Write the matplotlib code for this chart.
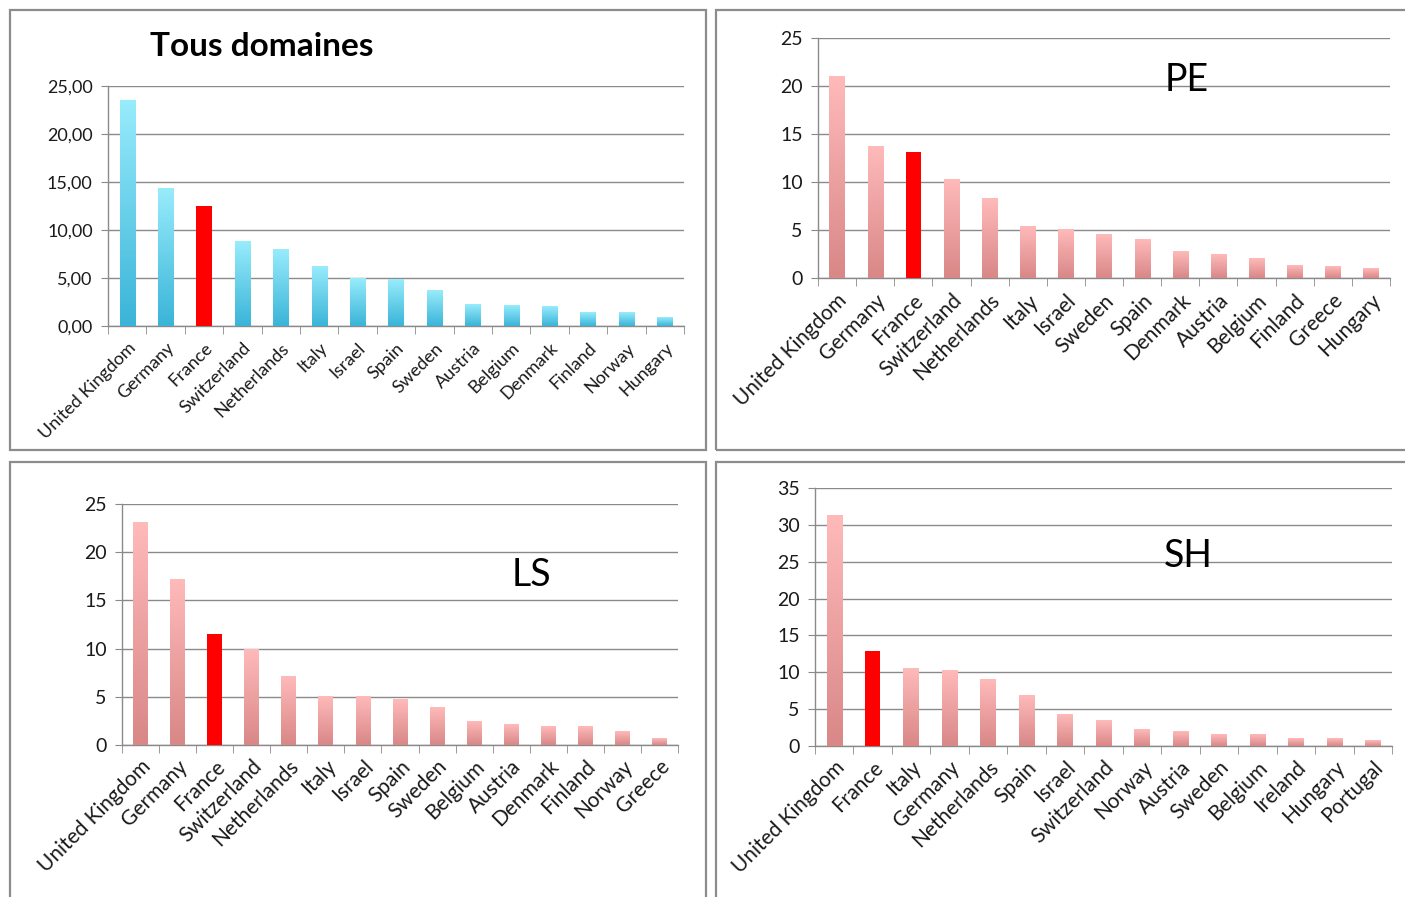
import matplotlib
matplotlib.use('Agg')

import matplotlib.pyplot as plt
from matplotlib.patches import Rectangle
from matplotlib.ticker import FuncFormatter, MultipleLocator
import numpy as np

plt.rcParams['font.family'] = ['Lato', 'DejaVu Sans']

# share per country, one list per domain
all_countries = ['United Kingdom', 'Germany', 'France', 'Switzerland', 'Netherlands', 'Italy',
                 'Israel', 'Spain', 'Sweden', 'Austria', 'Belgium', 'Denmark', 'Finland',
                 'Norway', 'Hungary']
all_values = [23.48, 14.28, 12.48, 8.85, 8.02, 6.22, 4.98, 4.81, 3.70, 2.25, 2.18, 2.00,
              1.45, 1.45, 0.90]

pe_countries = ['United Kingdom', 'Germany', 'France', 'Switzerland', 'Netherlands', 'Italy',
                'Israel', 'Sweden', 'Spain', 'Denmark', 'Austria', 'Belgium', 'Finland',
                'Greece', 'Hungary']
pe_values = [20.94, 13.65, 13.13, 10.24, 8.23, 5.35, 5.10, 4.48, 3.96, 2.71, 2.47, 2.08,
             1.35, 1.22, 0.94]

ls_countries = ['United Kingdom', 'Germany', 'France', 'Switzerland', 'Netherlands', 'Italy',
                'Israel', 'Spain', 'Sweden', 'Belgium', 'Austria', 'Denmark', 'Finland',
                'Norway', 'Greece']
ls_values = [23.06, 17.15, 11.55, 9.89, 7.12, 5.05, 5.03, 4.74, 3.87, 2.45, 2.11, 1.90,
             1.90, 1.45, 0.69]

sh_countries = ['United Kingdom', 'France', 'Italy', 'Germany', 'Netherlands', 'Spain',
                'Israel', 'Switzerland', 'Norway', 'Austria', 'Sweden', 'Belgium', 'Ireland',
                'Hungary', 'Portugal']
sh_values = [31.28, 12.85, 10.58, 10.30, 9.08, 6.81, 4.27, 3.50, 2.27, 2.00, 1.59, 1.59,
             0.95, 0.95, 0.68]

BLUE = ('#3ab4d8', '#98ecfc')
PINK = ('#d98787', '#ffbaba')
HIGHLIGHT = 'France'

W, H = 1405, 897
fig = plt.figure(figsize=(W / 100, H / 100), dpi=100)


def px_axes(left, right, top, bottom):
    # pixel box -> figure fraction axes
    return fig.add_axes([left / W, 1 - bottom / H, (right - left) / W, (bottom - top) / H])


def frame(x0, y0, x1, y1):
    fig.patches.append(Rectangle((x0 / W, 1 - y1 / H), (x1 - x0) / W, (y1 - y0) / H,
                                 transform=fig.transFigure, fill=False,
                                 edgecolor='#8c8c8c', linewidth=1.6))


def bar_panel(ax, countries, values, ymax, colors, fmt, tick_fs, label_fs, pad):
    x = np.arange(len(countries))
    width = 0.40
    grad = np.linspace(0, 1, 256).reshape(-1, 1)
    cmap = matplotlib.colors.LinearSegmentedColormap.from_list('g', list(colors))
    for xi, name, v in zip(x, countries, values):
        if name == HIGHLIGHT:
            ax.bar(xi, v, width=width, color='#ff0000', zorder=3)
        else:
            ax.imshow(grad, extent=(xi - width / 2, xi + width / 2, 0, v), origin='lower',
                      cmap=cmap, aspect='auto', zorder=3)
    ax.set_xlim(-0.5, len(countries) - 0.5)
    ax.set_ylim(0, ymax)

    ax.yaxis.set_major_locator(MultipleLocator(5))
    ax.yaxis.set_major_formatter(fmt)
    ax.grid(axis='y', color='#8a8a8a', linewidth=1.0, zorder=0)
    ax.set_axisbelow(True)
    for s in ['top', 'right']:
        ax.spines[s].set_visible(False)
    for s in ['left', 'bottom']:
        ax.spines[s].set_color('#8a8a8a')
        ax.spines[s].set_linewidth(1.0)

    ax.set_xticks(x)
    ax.set_xticklabels(countries, rotation=45, ha='right', rotation_mode='anchor',
                       fontsize=label_fs, color='#1a1a1a')
    ax.tick_params(axis='x', length=0, pad=pad)
    ax.set_xticks(np.arange(len(countries) + 1) - 0.5, minor=True)
    ax.tick_params(axis='x', which='minor', length=6, color='#8a8a8a', direction='out')
    ax.tick_params(axis='y', length=5, color='#8a8a8a', labelsize=tick_fs,
                   labelcolor='#1a1a1a', pad=6)


comma = FuncFormatter(lambda v, p: f'{v:.2f}'.replace('.', ','))
plain = FuncFormatter(lambda v, p: f'{v:.0f}')

frame(10, 10, 706, 450)
frame(716, 10, 1420, 450)
frame(10, 462, 706, 910)
frame(716, 462, 1420, 910)

ax1 = px_axes(108, 684, 86, 326)
bar_panel(ax1, all_countries, all_values, 25, BLUE, comma, 13, 13, 10)
fig.text(262 / W, 1 - 47 / H, 'Tous domaines', fontsize=24, fontweight='bold',
         ha='center', va='center')

ax2 = px_axes(818, 1390, 38, 278)
bar_panel(ax2, pe_countries, pe_values, 25, PINK, plain, 14, 15, 9)
ax2.text(1187 / W, 1 - 80 / H, 'PE', transform=fig.transFigure, fontsize=27,
         ha='center', va='center')

ax3 = px_axes(122, 678, 504, 745)
bar_panel(ax3, ls_countries, ls_values, 25, PINK, plain, 14, 15, 8)
ax3.text(531 / W, 1 - 575 / H, 'LS', transform=fig.transFigure, fontsize=27,
         ha='center', va='center')

ax4 = px_axes(815, 1392, 488, 746)
bar_panel(ax4, sh_countries, sh_values, 35, PINK, plain, 14, 15, 8)
ax4.text(1188 / W, 1 - 556 / H, 'SH', transform=fig.transFigure, fontsize=27,
         ha='center', va='center')

fig.savefig('out.png', dpi=100)
